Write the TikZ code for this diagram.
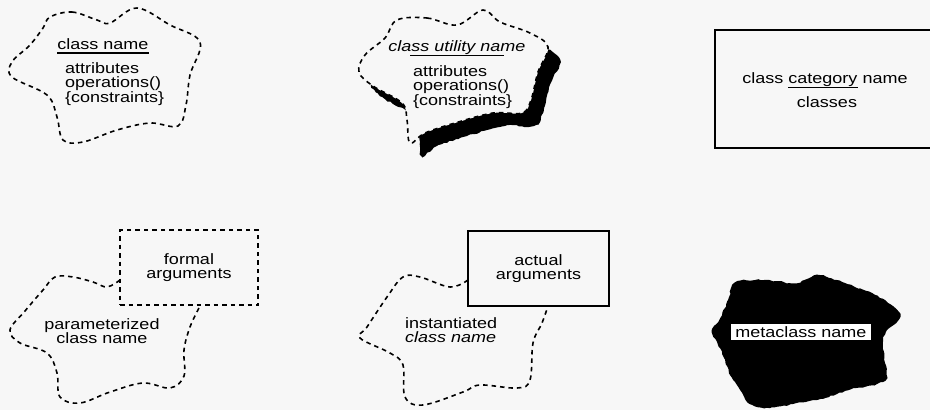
\documentclass[tikz,border=0pt]{standalone}
\usepackage{fontspec}
\setmainfont[FakeStretch=1.2]{Liberation Sans}
\usetikzlibrary{decorations.pathmorphing}
\definecolor{paper}{gray}{0.97}

% outlines of the clouds, in pixel-like units
\newcommand\utilcloud{plot[smooth cycle,tension=0.6] coordinates {(397,20) (427,18) (457,25) (483,10) (500,22) (530,33) (548,47) (538,72) (531,100) (522,113) (493,113) (455,123) (425,133) (410,143) (407,120) (402,103) (373,86) (359,72) (365,55) (385,38)}}

\begin{document}
\begin{tikzpicture}[x=1pt,y=-1pt,
    txt/.style={font=\fontsize{15}{14.5}\selectfont,inner sep=0pt},
    dashline/.style={line width=1.6pt,dash pattern=on 4.5pt off 4pt},
    solidline/.style={line width=1.6pt},
    rough/.style={decorate,decoration={random steps,segment length=3pt,amplitude=0.8pt}}]
  \fill[paper] (0,0) rectangle (930,410);
  \useasboundingbox (0,0) rectangle (930,410);

  % class
  \draw[dashline] plot[smooth cycle,tension=0.6] coordinates {(50,17) (72,12) (97,20) (110,23) (137,8) (170,25) (200,42) (190,75) (186,105) (178,126) (150,123) (117,130) (83,142) (63,140) (57,117) (47,95) (12,77) (12,62) (30,45) (43,28)};
  \node[txt,anchor=base] (cname) at (103,49) {class name};
  \draw[line width=1.2pt] ([yshift=-4pt]cname.base west) -- ([yshift=-4pt]cname.base east);
  \node[txt,anchor=north west,align=left] (cattr) at (65,62) {attributes\\operations()\\\{constraints\}};

  % class utility
  \begin{scope}[shift={(12,13)}]
    \fill[black,rough] \utilcloud;
  \end{scope}
  \draw[dashline,fill=paper] \utilcloud;
  \node[txt,anchor=base] (uname) at (457,51) {\itshape class utility name};
  \draw[line width=1.2pt] ([xshift=22pt,yshift=-1pt]uname.south west) -- ([xshift=-22pt,yshift=-1pt]uname.south east);
  \node[txt,anchor=north west,align=left] (uattr) at (413,65) {attributes\\operations()\\\{constraints\}};

  % class category
  \node[draw,solidline,anchor=north west,minimum width=230pt,minimum height=118pt] (cat) at (714,29) {};
  \node[txt,anchor=base] (catname) at (825,83) {class \underline{category} name};
  \node[txt,anchor=base] (catcls) at (827,107) {classes};

  % parameterized class
  \node[draw,dashline,txt,align=center,minimum width=138pt,minimum height=75pt] (formal) at (189,267.5) {formal\\arguments};
  \draw[dashline] plot[smooth,tension=0.6] coordinates {(120,280) (107,287) (93,282) (73,277) (55,277) (43,290) (25,311) (10,330) (20,343) (47,353) (57,373) (60,397) (80,403) (110,392) (143,383) (170,388) (184,376) (184,350) (190,327) (200,306)};
  \node[txt,align=center] (pname) at (102,331) {parameterized\\class name};

  % instantiated class
  \node[draw,solidline,txt,align=center,minimum width=141pt,minimum height=75pt] (actual) at (538.5,268.5) {actual\\arguments};
  \draw[dashline] plot[smooth,tension=0.6] coordinates {(468,280) (450,287) (420,277) (403,277) (387,297) (367,327) (360,338) (390,353) (403,365) (405,397) (423,405) (463,392) (480,385) (517,388) (530,380) (533,343) (542,323) (548,306)};
  \node[txt,anchor=north west,align=left] (iname) at (405,317) {instantiated\\\textit{class name}};

  % metaclass
  \fill[black,rough] plot[smooth cycle,tension=0.55] coordinates {(735,283) (755,280) (775,281) (797,283) (817,275) (837,280) (855,287) (872,293) (888,303) (900,314) (896,323) (886,332) (883,345) (885,363) (887,378) (877,384) (857,388) (837,394) (817,400) (793,404) (770,408) (750,404) (740,390) (730,375) (725,360) (718,345) (712,332) (720,318) (728,300)};
  \node[txt,fill=white,draw,line width=0.6pt,inner xsep=5pt,inner ysep=3pt] (meta) at (801,332) {metaclass name};
\end{tikzpicture}
\end{document}
